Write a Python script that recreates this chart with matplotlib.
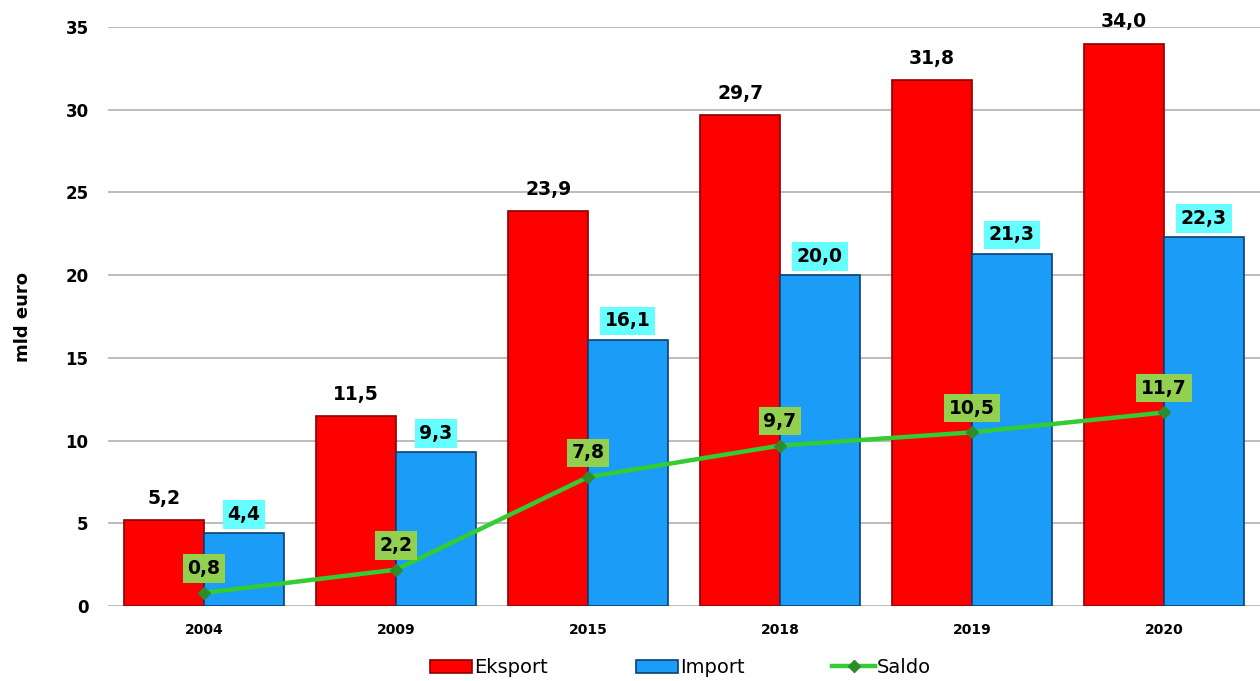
import matplotlib
matplotlib.use("Agg")
import matplotlib.pyplot as plt
import numpy as np

years = ["2004", "2009", "2015", "2018", "2019", "2020"]
eksport = [5.2, 11.5, 23.9, 29.7, 31.8, 34.0]
import_ = [4.4, 9.3, 16.1, 20.0, 21.3, 22.3]
saldo = [0.8, 2.2, 7.8, 9.7, 10.5, 11.7]

def fmt(v):
    return f"{v:.1f}".replace(".", ",")

fig = plt.figure(figsize=(12.6, 6.81), dpi=100)
ax = fig.add_axes([0.0857, 0.110, 0.9143, 0.8504])

x = np.arange(len(years))
w = 0.415
b1 = ax.bar(x - w / 2, eksport, width=w, color="#ff0000", edgecolor="#8b0000",
            linewidth=1.2, label="Eksport", zorder=3)
b2 = ax.bar(x + w / 2, import_, width=w, color="#1a9cf7", edgecolor="#0b3f73",
            linewidth=1.2, label="Import", zorder=3)
l1, = ax.plot(x, saldo, color="#33cc33", linewidth=3.2, marker="D", markersize=6,
              markerfacecolor="#2e8b2e", markeredgecolor="#2e8b2e", label="Saldo", zorder=4)

fs = 13.5
for i in range(len(years)):
    ax.annotate(fmt(eksport[i]), (x[i] - w / 2, eksport[i]), xytext=(0, 15.5),
                textcoords="offset points", ha="center", va="center",
                fontsize=fs, fontweight="bold", zorder=6)
    ax.annotate(fmt(import_[i]), (x[i] + w / 2, import_[i]), xytext=(0, 13.5),
                textcoords="offset points", ha="center", va="center",
                fontsize=fs, fontweight="bold", zorder=6,
                bbox=dict(boxstyle="square,pad=0.25", fc="#66ffff", ec="none"))
    ax.annotate(fmt(saldo[i]), (x[i], saldo[i]), xytext=(0, 17.5),
                textcoords="offset points", ha="center", va="center",
                fontsize=fs, fontweight="bold", zorder=6,
                bbox=dict(boxstyle="square,pad=0.25", fc="#92d050", ec="none"))

ax.set_xlim(-0.5, len(years) - 0.5)
ax.set_ylim(0, 35)
ax.set_yticks(range(0, 36, 5))
ax.set_xticks(x)
ax.set_xticklabels(years, fontsize=10, fontweight="bold")
for t in ax.get_yticklabels():
    t.set_fontsize(12)
    t.set_fontweight("bold")
ax.tick_params(axis="y", length=0, pad=14)
ax.tick_params(axis="x", length=0, pad=12)
ax.grid(axis="y", color="#b0b0b0", linewidth=1.2, zorder=0)
ax.set_axisbelow(True)
for s in ax.spines.values():
    s.set_visible(False)
ax.set_ylabel("mld euro", fontsize=13, fontweight="bold", labelpad=24)

fig.legend([b1, b2, l1], ["Eksport", "Import", "Saldo"], loc="lower center",
           bbox_to_anchor=(0.54, -0.02), ncol=3, frameon=False,
           fontsize=14, handlelength=2.2, handletextpad=0.1, columnspacing=4.5)

fig.savefig("out.png", dpi=100)
